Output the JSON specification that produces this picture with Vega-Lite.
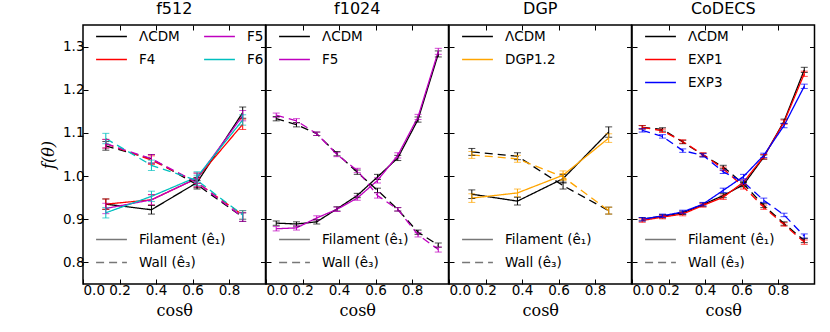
{
"$schema":"https://vega.github.io/schema/vega-lite/v6.json",
"background":"white",
"padding":{"left":39,"top":0,"right":5,"bottom":5},
"spacing":0,
"bounds":"flush",
"datasets":{"d":[
{"p":"f512","m":"ΛCDM","t":"Filament (ê₁)","x":0.125,"y":0.935,"e":0.012},
{"p":"f512","m":"ΛCDM","t":"Filament (ê₁)","x":0.375,"y":0.922,"e":0.01},
{"p":"f512","m":"ΛCDM","t":"Filament (ê₁)","x":0.625,"y":0.985,"e":0.012},
{"p":"f512","m":"ΛCDM","t":"Filament (ê₁)","x":0.875,"y":1.147,"e":0.013},
{"p":"f512","m":"F4","t":"Filament (ê₁)","x":0.125,"y":0.935,"e":0.012},
{"p":"f512","m":"F4","t":"Filament (ê₁)","x":0.375,"y":0.945,"e":0.012},
{"p":"f512","m":"F4","t":"Filament (ê₁)","x":0.625,"y":0.995,"e":0.012},
{"p":"f512","m":"F4","t":"Filament (ê₁)","x":0.875,"y":1.12,"e":0.012},
{"p":"f512","m":"F5","t":"Filament (ê₁)","x":0.125,"y":0.925,"e":0.012},
{"p":"f512","m":"F5","t":"Filament (ê₁)","x":0.375,"y":0.945,"e":0.012},
{"p":"f512","m":"F5","t":"Filament (ê₁)","x":0.625,"y":0.995,"e":0.012},
{"p":"f512","m":"F5","t":"Filament (ê₁)","x":0.875,"y":1.14,"e":0.012},
{"p":"f512","m":"F6","t":"Filament (ê₁)","x":0.125,"y":0.915,"e":0.012},
{"p":"f512","m":"F6","t":"Filament (ê₁)","x":0.375,"y":0.953,"e":0.012},
{"p":"f512","m":"F6","t":"Filament (ê₁)","x":0.625,"y":0.998,"e":0.012},
{"p":"f512","m":"F6","t":"Filament (ê₁)","x":0.875,"y":1.13,"e":0.012},
{"p":"f512","m":"ΛCDM","t":"Wall (ê₃)","x":0.125,"y":1.07,"e":0.01},
{"p":"f512","m":"ΛCDM","t":"Wall (ê₃)","x":0.375,"y":1.04,"e":0.01},
{"p":"f512","m":"ΛCDM","t":"Wall (ê₃)","x":0.625,"y":0.98,"e":0.01},
{"p":"f512","m":"ΛCDM","t":"Wall (ê₃)","x":0.875,"y":0.905,"e":0.01},
{"p":"f512","m":"F4","t":"Wall (ê₃)","x":0.125,"y":1.075,"e":0.01},
{"p":"f512","m":"F4","t":"Wall (ê₃)","x":0.375,"y":1.037,"e":0.01},
{"p":"f512","m":"F4","t":"Wall (ê₃)","x":0.625,"y":0.985,"e":0.01},
{"p":"f512","m":"F4","t":"Wall (ê₃)","x":0.875,"y":0.91,"e":0.01},
{"p":"f512","m":"F5","t":"Wall (ê₃)","x":0.125,"y":1.075,"e":0.01},
{"p":"f512","m":"F5","t":"Wall (ê₃)","x":0.375,"y":1.04,"e":0.01},
{"p":"f512","m":"F5","t":"Wall (ê₃)","x":0.625,"y":0.985,"e":0.01},
{"p":"f512","m":"F5","t":"Wall (ê₃)","x":0.875,"y":0.905,"e":0.01},
{"p":"f512","m":"F6","t":"Wall (ê₃)","x":0.125,"y":1.087,"e":0.012},
{"p":"f512","m":"F6","t":"Wall (ê₃)","x":0.375,"y":1.025,"e":0.012},
{"p":"f512","m":"F6","t":"Wall (ê₃)","x":0.625,"y":0.99,"e":0.012},
{"p":"f512","m":"F6","t":"Wall (ê₃)","x":0.875,"y":0.91,"e":0.01},

{"p":"f1024","m":"ΛCDM","t":"Filament (ê₁)","x":0.056,"y":0.891,"e":0.005},
{"p":"f1024","m":"ΛCDM","t":"Filament (ê₁)","x":0.167,"y":0.889,"e":0.005},
{"p":"f1024","m":"ΛCDM","t":"Filament (ê₁)","x":0.278,"y":0.894,"e":0.005},
{"p":"f1024","m":"ΛCDM","t":"Filament (ê₁)","x":0.389,"y":0.924,"e":0.005},
{"p":"f1024","m":"ΛCDM","t":"Filament (ê₁)","x":0.5,"y":0.955,"e":0.005},
{"p":"f1024","m":"ΛCDM","t":"Filament (ê₁)","x":0.611,"y":0.998,"e":0.006},
{"p":"f1024","m":"ΛCDM","t":"Filament (ê₁)","x":0.722,"y":1.042,"e":0.006},
{"p":"f1024","m":"ΛCDM","t":"Filament (ê₁)","x":0.833,"y":1.131,"e":0.006},
{"p":"f1024","m":"ΛCDM","t":"Filament (ê₁)","x":0.944,"y":1.283,"e":0.007},
{"p":"f1024","m":"F5","t":"Filament (ê₁)","x":0.056,"y":0.878,"e":0.005},
{"p":"f1024","m":"F5","t":"Filament (ê₁)","x":0.167,"y":0.88,"e":0.005},
{"p":"f1024","m":"F5","t":"Filament (ê₁)","x":0.278,"y":0.903,"e":0.005},
{"p":"f1024","m":"F5","t":"Filament (ê₁)","x":0.389,"y":0.923,"e":0.005},
{"p":"f1024","m":"F5","t":"Filament (ê₁)","x":0.5,"y":0.949,"e":0.005},
{"p":"f1024","m":"F5","t":"Filament (ê₁)","x":0.611,"y":0.99,"e":0.006},
{"p":"f1024","m":"F5","t":"Filament (ê₁)","x":0.722,"y":1.048,"e":0.006},
{"p":"f1024","m":"F5","t":"Filament (ê₁)","x":0.833,"y":1.137,"e":0.006},
{"p":"f1024","m":"F5","t":"Filament (ê₁)","x":0.944,"y":1.289,"e":0.007},
{"p":"f1024","m":"ΛCDM","t":"Wall (ê₃)","x":0.056,"y":1.133,"e":0.005},
{"p":"f1024","m":"ΛCDM","t":"Wall (ê₃)","x":0.167,"y":1.119,"e":0.005},
{"p":"f1024","m":"ΛCDM","t":"Wall (ê₃)","x":0.278,"y":1.098,"e":0.004},
{"p":"f1024","m":"ΛCDM","t":"Wall (ê₃)","x":0.389,"y":1.052,"e":0.005},
{"p":"f1024","m":"ΛCDM","t":"Wall (ê₃)","x":0.5,"y":1.009,"e":0.005},
{"p":"f1024","m":"ΛCDM","t":"Wall (ê₃)","x":0.611,"y":0.967,"e":0.005},
{"p":"f1024","m":"ΛCDM","t":"Wall (ê₃)","x":0.722,"y":0.923,"e":0.004},
{"p":"f1024","m":"ΛCDM","t":"Wall (ê₃)","x":0.833,"y":0.87,"e":0.005},
{"p":"f1024","m":"ΛCDM","t":"Wall (ê₃)","x":0.944,"y":0.84,"e":0.005},
{"p":"f1024","m":"F5","t":"Wall (ê₃)","x":0.056,"y":1.141,"e":0.005},
{"p":"f1024","m":"F5","t":"Wall (ê₃)","x":0.167,"y":1.128,"e":0.005},
{"p":"f1024","m":"F5","t":"Wall (ê₃)","x":0.278,"y":1.098,"e":0.004},
{"p":"f1024","m":"F5","t":"Wall (ê₃)","x":0.389,"y":1.05,"e":0.005},
{"p":"f1024","m":"F5","t":"Wall (ê₃)","x":0.5,"y":1.013,"e":0.005},
{"p":"f1024","m":"F5","t":"Wall (ê₃)","x":0.611,"y":0.955,"e":0.006},
{"p":"f1024","m":"F5","t":"Wall (ê₃)","x":0.722,"y":0.923,"e":0.004},
{"p":"f1024","m":"F5","t":"Wall (ê₃)","x":0.833,"y":0.864,"e":0.005},
{"p":"f1024","m":"F5","t":"Wall (ê₃)","x":0.944,"y":0.83,"e":0.006},

{"p":"DGP","m":"ΛCDM","t":"Filament (ê₁)","x":0.125,"y":0.958,"e":0.01},
{"p":"DGP","m":"ΛCDM","t":"Filament (ê₁)","x":0.375,"y":0.942,"e":0.009},
{"p":"DGP","m":"ΛCDM","t":"Filament (ê₁)","x":0.625,"y":0.994,"e":0.01},
{"p":"DGP","m":"ΛCDM","t":"Filament (ê₁)","x":0.875,"y":1.102,"e":0.012},
{"p":"DGP","m":"DGP1.2","t":"Filament (ê₁)","x":0.125,"y":0.949,"e":0.01},
{"p":"DGP","m":"DGP1.2","t":"Filament (ê₁)","x":0.375,"y":0.961,"e":0.009},
{"p":"DGP","m":"DGP1.2","t":"Filament (ê₁)","x":0.625,"y":1.002,"e":0.01},
{"p":"DGP","m":"DGP1.2","t":"Filament (ê₁)","x":0.875,"y":1.088,"e":0.01},
{"p":"DGP","m":"ΛCDM","t":"Wall (ê₃)","x":0.125,"y":1.056,"e":0.008},
{"p":"DGP","m":"ΛCDM","t":"Wall (ê₃)","x":0.375,"y":1.046,"e":0.008},
{"p":"DGP","m":"ΛCDM","t":"Wall (ê₃)","x":0.625,"y":0.978,"e":0.008},
{"p":"DGP","m":"ΛCDM","t":"Wall (ê₃)","x":0.875,"y":0.92,"e":0.008},
{"p":"DGP","m":"DGP1.2","t":"Wall (ê₃)","x":0.125,"y":1.049,"e":0.008},
{"p":"DGP","m":"DGP1.2","t":"Wall (ê₃)","x":0.375,"y":1.04,"e":0.008},
{"p":"DGP","m":"DGP1.2","t":"Wall (ê₃)","x":0.625,"y":0.998,"e":0.008},
{"p":"DGP","m":"DGP1.2","t":"Wall (ê₃)","x":0.875,"y":0.92,"e":0.008},

{"p":"CoDECS","m":"ΛCDM","t":"Filament (ê₁)","x":0.056,"y":0.9,"e":0.004},
{"p":"CoDECS","m":"ΛCDM","t":"Filament (ê₁)","x":0.167,"y":0.907,"e":0.004},
{"p":"CoDECS","m":"ΛCDM","t":"Filament (ê₁)","x":0.278,"y":0.915,"e":0.004},
{"p":"CoDECS","m":"ΛCDM","t":"Filament (ê₁)","x":0.389,"y":0.934,"e":0.004},
{"p":"CoDECS","m":"ΛCDM","t":"Filament (ê₁)","x":0.5,"y":0.955,"e":0.005},
{"p":"CoDECS","m":"ΛCDM","t":"Filament (ê₁)","x":0.611,"y":0.98,"e":0.005},
{"p":"CoDECS","m":"ΛCDM","t":"Filament (ê₁)","x":0.722,"y":1.044,"e":0.005},
{"p":"CoDECS","m":"ΛCDM","t":"Filament (ê₁)","x":0.833,"y":1.127,"e":0.005},
{"p":"CoDECS","m":"ΛCDM","t":"Filament (ê₁)","x":0.944,"y":1.246,"e":0.006},
{"p":"CoDECS","m":"EXP1","t":"Filament (ê₁)","x":0.056,"y":0.897,"e":0.004},
{"p":"CoDECS","m":"EXP1","t":"Filament (ê₁)","x":0.167,"y":0.905,"e":0.004},
{"p":"CoDECS","m":"EXP1","t":"Filament (ê₁)","x":0.278,"y":0.912,"e":0.004},
{"p":"CoDECS","m":"EXP1","t":"Filament (ê₁)","x":0.389,"y":0.932,"e":0.004},
{"p":"CoDECS","m":"EXP1","t":"Filament (ê₁)","x":0.5,"y":0.951,"e":0.005},
{"p":"CoDECS","m":"EXP1","t":"Filament (ê₁)","x":0.611,"y":0.986,"e":0.005},
{"p":"CoDECS","m":"EXP1","t":"Filament (ê₁)","x":0.722,"y":1.045,"e":0.005},
{"p":"CoDECS","m":"EXP1","t":"Filament (ê₁)","x":0.833,"y":1.125,"e":0.005},
{"p":"CoDECS","m":"EXP1","t":"Filament (ê₁)","x":0.944,"y":1.237,"e":0.006},
{"p":"CoDECS","m":"EXP3","t":"Filament (ê₁)","x":0.056,"y":0.9,"e":0.004},
{"p":"CoDECS","m":"EXP3","t":"Filament (ê₁)","x":0.167,"y":0.908,"e":0.004},
{"p":"CoDECS","m":"EXP3","t":"Filament (ê₁)","x":0.278,"y":0.917,"e":0.004},
{"p":"CoDECS","m":"EXP3","t":"Filament (ê₁)","x":0.389,"y":0.935,"e":0.004},
{"p":"CoDECS","m":"EXP3","t":"Filament (ê₁)","x":0.5,"y":0.967,"e":0.005},
{"p":"CoDECS","m":"EXP3","t":"Filament (ê₁)","x":0.611,"y":0.999,"e":0.005},
{"p":"CoDECS","m":"EXP3","t":"Filament (ê₁)","x":0.722,"y":1.048,"e":0.005},
{"p":"CoDECS","m":"EXP3","t":"Filament (ê₁)","x":0.833,"y":1.117,"e":0.005},
{"p":"CoDECS","m":"EXP3","t":"Filament (ê₁)","x":0.944,"y":1.208,"e":0.005},
{"p":"CoDECS","m":"ΛCDM","t":"Wall (ê₃)","x":0.056,"y":1.113,"e":0.004},
{"p":"CoDECS","m":"ΛCDM","t":"Wall (ê₃)","x":0.167,"y":1.108,"e":0.004},
{"p":"CoDECS","m":"ΛCDM","t":"Wall (ê₃)","x":0.278,"y":1.079,"e":0.004},
{"p":"CoDECS","m":"ΛCDM","t":"Wall (ê₃)","x":0.389,"y":1.049,"e":0.004},
{"p":"CoDECS","m":"ΛCDM","t":"Wall (ê₃)","x":0.5,"y":1.021,"e":0.004},
{"p":"CoDECS","m":"ΛCDM","t":"Wall (ê₃)","x":0.611,"y":0.982,"e":0.005},
{"p":"CoDECS","m":"ΛCDM","t":"Wall (ê₃)","x":0.722,"y":0.932,"e":0.005},
{"p":"CoDECS","m":"ΛCDM","t":"Wall (ê₃)","x":0.833,"y":0.89,"e":0.004},
{"p":"CoDECS","m":"ΛCDM","t":"Wall (ê₃)","x":0.944,"y":0.851,"e":0.005},
{"p":"CoDECS","m":"EXP1","t":"Wall (ê₃)","x":0.056,"y":1.113,"e":0.004},
{"p":"CoDECS","m":"EXP1","t":"Wall (ê₃)","x":0.167,"y":1.105,"e":0.004},
{"p":"CoDECS","m":"EXP1","t":"Wall (ê₃)","x":0.278,"y":1.08,"e":0.004},
{"p":"CoDECS","m":"EXP1","t":"Wall (ê₃)","x":0.389,"y":1.05,"e":0.004},
{"p":"CoDECS","m":"EXP1","t":"Wall (ê₃)","x":0.5,"y":1.017,"e":0.004},
{"p":"CoDECS","m":"EXP1","t":"Wall (ê₃)","x":0.611,"y":0.975,"e":0.005},
{"p":"CoDECS","m":"EXP1","t":"Wall (ê₃)","x":0.722,"y":0.928,"e":0.005},
{"p":"CoDECS","m":"EXP1","t":"Wall (ê₃)","x":0.833,"y":0.888,"e":0.004},
{"p":"CoDECS","m":"EXP1","t":"Wall (ê₃)","x":0.944,"y":0.847,"e":0.005},
{"p":"CoDECS","m":"EXP3","t":"Wall (ê₃)","x":0.056,"y":1.106,"e":0.004},
{"p":"CoDECS","m":"EXP3","t":"Wall (ê₃)","x":0.167,"y":1.092,"e":0.004},
{"p":"CoDECS","m":"EXP3","t":"Wall (ê₃)","x":0.278,"y":1.059,"e":0.004},
{"p":"CoDECS","m":"EXP3","t":"Wall (ê₃)","x":0.389,"y":1.048,"e":0.004},
{"p":"CoDECS","m":"EXP3","t":"Wall (ê₃)","x":0.5,"y":1.01,"e":0.004},
{"p":"CoDECS","m":"EXP3","t":"Wall (ê₃)","x":0.611,"y":0.986,"e":0.005},
{"p":"CoDECS","m":"EXP3","t":"Wall (ê₃)","x":0.722,"y":0.944,"e":0.005},
{"p":"CoDECS","m":"EXP3","t":"Wall (ê₃)","x":0.833,"y":0.91,"e":0.004},
{"p":"CoDECS","m":"EXP3","t":"Wall (ê₃)","x":0.944,"y":0.861,"e":0.005}
]},
"data":{"name":"d"},
"config":{
 "font":"DejaVu Sans",
 "view":{"stroke":"#000","strokeWidth":1.5},
 "axis":{"domain":false,"grid":false,"tickColor":"#000","tickSize":-5,"tickWidth":1,"labelFont":"DejaVu Sans","labelFontSize":13.5,"labelColor":"#000","titleFont":"DejaVu Serif","titleFontSize":16,"titleFontWeight":"normal","titleColor":"#000"},
 "title":{"font":"DejaVu Sans","fontSize":16,"fontWeight":"normal","color":"#000","offset":3},
 "legend":{"labelFont":"DejaVu Sans","labelFontSize":13.5,"labelColor":"#000","symbolType":"stroke","symbolSize":950,"symbolStrokeWidth":1.5,"padding":0,"rowPadding":-1,"labelOffset":11,"title":null}
},
"resolve":{"scale":{"color":"independent","strokeDash":"independent","x":"independent","y":"independent"},"legend":{"color":"independent","strokeDash":"independent"},"axis":{"x":"independent","y":"independent"}},
"hconcat":[
{"width":182.5,"height":259,"title":"f512","transform":[{"filter":"datum.p==='f512'"}],
 "resolve":{"axis":{"x":"independent","y":"independent"}},
 "layer":[
 {"mark":{"type":"line","strokeWidth":1.3},
  "encoding":{
   "x":{"field":"x","type":"quantitative","scale":{"domain":[0,1],"nice":false},"axis":{"orient":"bottom","values":[0,0.2,0.4,0.6,0.8],"format":".1f","title":"cosθ","labelPadding":4,"titlePadding":6}},
   "y":{"field":"y","type":"quantitative","scale":{"domain":[0.75,1.35],"nice":false,"zero":false},"axis":{"orient":"left","values":[0.8,0.9,1.0,1.1,1.2,1.3],"format":".1f","title":"f(θ)","titleFontStyle":"italic","labelPadding":4,"titlePadding":6}},
   "color":{"field":"m","type":"nominal","scale":{"domain":["ΛCDM","F4","F5","F6"],"range":["#000000","#ff0000","#bf00bf","#00bfbf"]},"legend":{"orient":"none","legendX":12,"legendY":-5,"columns":2,"columnPadding":21}},
   "strokeDash":{"field":"t","type":"nominal","scale":{"domain":["Filament (ê₁)","Wall (ê₃)"],"range":[[1,0],[8,5]]},"legend":{"orient":"none","legendX":12,"legendY":198,"symbolStrokeColor":"#777"}},
   "detail":{"field":"m"}}},
 {"mark":{"type":"errorbar","ticks":{"size":7},"thickness":1},
  "encoding":{"x":{"field":"x","type":"quantitative","axis":null},"y":{"field":"y","type":"quantitative","axis":null},"yError":{"field":"e"},"color":{"field":"m","type":"nominal","legend":null}}},
 {"mark":{"type":"point","opacity":0},
  "encoding":{"x":{"field":"x","type":"quantitative","axis":{"orient":"top","values":[0.2,0.4,0.6,0.8],"labels":false,"title":null}},"y":{"field":"y","type":"quantitative","axis":{"orient":"right","values":[0.8,0.9,1.0,1.1,1.2,1.3],"labels":false,"title":null}}}}
 ]},
{"width":182.5,"height":259,"title":"f1024","transform":[{"filter":"datum.p==='f1024'"}],
 "resolve":{"axis":{"x":"independent","y":"independent"}},
 "layer":[
 {"mark":{"type":"line","strokeWidth":1.3},
  "encoding":{
   "x":{"field":"x","type":"quantitative","scale":{"domain":[0,1],"nice":false},"axis":{"orient":"bottom","values":[0,0.2,0.4,0.6,0.8],"format":".1f","title":"cosθ","labelPadding":4,"titlePadding":6}},
   "y":{"field":"y","type":"quantitative","scale":{"domain":[0.75,1.35],"nice":false,"zero":false},"axis":{"orient":"left","values":[0.8,0.9,1.0,1.1,1.2,1.3],"labels":false,"title":null}},
   "color":{"field":"m","type":"nominal","scale":{"domain":["ΛCDM","F5"],"range":["#000000","#bf00bf"]},"legend":{"orient":"none","legendX":12,"legendY":-5}},
   "strokeDash":{"field":"t","type":"nominal","scale":{"domain":["Filament (ê₁)","Wall (ê₃)"],"range":[[1,0],[8,5]]},"legend":{"orient":"none","legendX":12,"legendY":198,"symbolStrokeColor":"#777"}},
   "detail":{"field":"m"}}},
 {"mark":{"type":"errorbar","ticks":{"size":7},"thickness":1},
  "encoding":{"x":{"field":"x","type":"quantitative","axis":null},"y":{"field":"y","type":"quantitative","axis":null},"yError":{"field":"e"},"color":{"field":"m","type":"nominal","legend":null}}},
 {"mark":{"type":"point","opacity":0},
  "encoding":{"x":{"field":"x","type":"quantitative","axis":{"orient":"top","values":[0.2,0.4,0.6,0.8],"labels":false,"title":null}},"y":{"field":"y","type":"quantitative","axis":{"orient":"right","values":[0.8,0.9,1.0,1.1,1.2,1.3],"labels":false,"title":null}}}}
 ]},
{"width":182.5,"height":259,"title":"DGP","transform":[{"filter":"datum.p==='DGP'"}],
 "resolve":{"axis":{"x":"independent","y":"independent"}},
 "layer":[
 {"mark":{"type":"line","strokeWidth":1.3},
  "encoding":{
   "x":{"field":"x","type":"quantitative","scale":{"domain":[0,1],"nice":false},"axis":{"orient":"bottom","values":[0,0.2,0.4,0.6,0.8],"format":".1f","title":"cosθ","labelPadding":4,"titlePadding":6}},
   "y":{"field":"y","type":"quantitative","scale":{"domain":[0.75,1.35],"nice":false,"zero":false},"axis":{"orient":"left","values":[0.8,0.9,1.0,1.1,1.2,1.3],"labels":false,"title":null}},
   "color":{"field":"m","type":"nominal","scale":{"domain":["ΛCDM","DGP1.2"],"range":["#000000","#ffa500"]},"legend":{"orient":"none","legendX":12,"legendY":-5}},
   "strokeDash":{"field":"t","type":"nominal","scale":{"domain":["Filament (ê₁)","Wall (ê₃)"],"range":[[1,0],[8,5]]},"legend":{"orient":"none","legendX":12,"legendY":198,"symbolStrokeColor":"#777"}},
   "detail":{"field":"m"}}},
 {"mark":{"type":"errorbar","ticks":{"size":7},"thickness":1},
  "encoding":{"x":{"field":"x","type":"quantitative","axis":null},"y":{"field":"y","type":"quantitative","axis":null},"yError":{"field":"e"},"color":{"field":"m","type":"nominal","legend":null}}},
 {"mark":{"type":"point","opacity":0},
  "encoding":{"x":{"field":"x","type":"quantitative","axis":{"orient":"top","values":[0.2,0.4,0.6,0.8],"labels":false,"title":null}},"y":{"field":"y","type":"quantitative","axis":{"orient":"right","values":[0.8,0.9,1.0,1.1,1.2,1.3],"labels":false,"title":null}}}}
 ]},
{"width":182.5,"height":259,"title":"CoDECS","transform":[{"filter":"datum.p==='CoDECS'"}],
 "resolve":{"axis":{"x":"independent","y":"independent"}},
 "layer":[
 {"mark":{"type":"line","strokeWidth":1.3},
  "encoding":{
   "x":{"field":"x","type":"quantitative","scale":{"domain":[0,1],"nice":false},"axis":{"orient":"bottom","values":[0,0.2,0.4,0.6,0.8],"format":".1f","title":"cosθ","labelPadding":4,"titlePadding":6}},
   "y":{"field":"y","type":"quantitative","scale":{"domain":[0.75,1.35],"nice":false,"zero":false},"axis":{"orient":"left","values":[0.8,0.9,1.0,1.1,1.2,1.3],"labels":false,"title":null}},
   "color":{"field":"m","type":"nominal","scale":{"domain":["ΛCDM","EXP1","EXP3"],"range":["#000000","#ff0000","#0000ff"]},"legend":{"orient":"none","legendX":12,"legendY":-5}},
   "strokeDash":{"field":"t","type":"nominal","scale":{"domain":["Filament (ê₁)","Wall (ê₃)"],"range":[[1,0],[8,5]]},"legend":{"orient":"none","legendX":12,"legendY":198,"symbolStrokeColor":"#777"}},
   "detail":{"field":"m"}}},
 {"mark":{"type":"errorbar","ticks":{"size":7},"thickness":1},
  "encoding":{"x":{"field":"x","type":"quantitative","axis":null},"y":{"field":"y","type":"quantitative","axis":null},"yError":{"field":"e"},"color":{"field":"m","type":"nominal","legend":null}}},
 {"mark":{"type":"point","opacity":0},
  "encoding":{"x":{"field":"x","type":"quantitative","axis":{"orient":"top","values":[0.2,0.4,0.6,0.8],"labels":false,"title":null}},"y":{"field":"y","type":"quantitative","axis":{"orient":"right","values":[0.8,0.9,1.0,1.1,1.2,1.3],"labels":false,"title":null}}}}
 ]}
]
}
